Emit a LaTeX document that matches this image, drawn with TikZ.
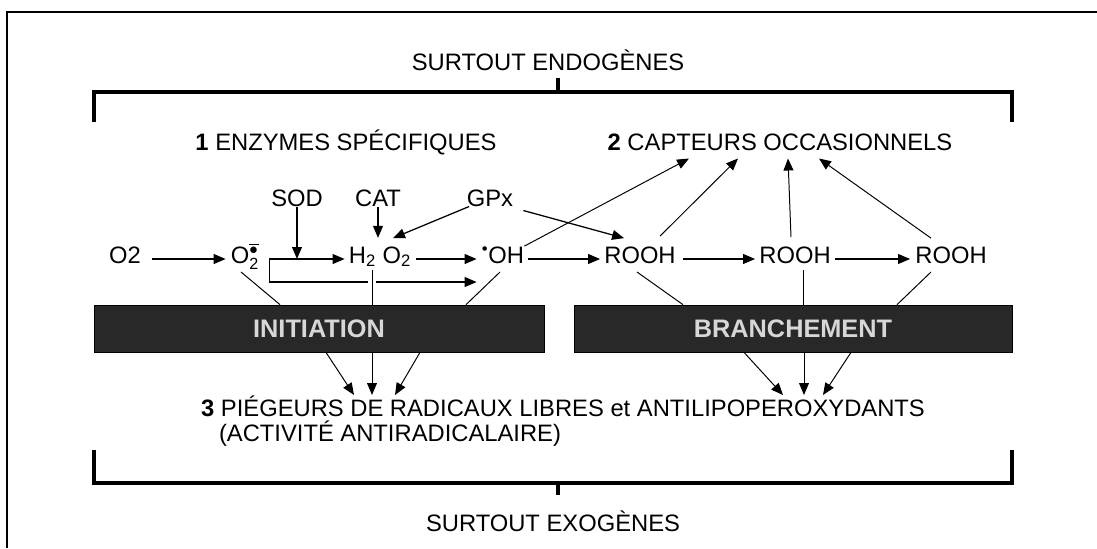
\documentclass[tikz,border=0pt]{standalone}
\usepackage{fontspec}
\setmainfont{Liberation Sans}
\usepackage{tikz}
\usetikzlibrary{arrows.meta,positioning,calc}
\definecolor{barfill}{RGB}{40,40,40}
\definecolor{barlight}{RGB}{215,215,215}
\newcommand{\superox}{O$_{\mbox{\fontsize{11.5}{12}\selectfont 2}}^{\overline{\scriptstyle\bullet}}$}

\begin{document}
\begin{tikzpicture}[x=0.025cm,y=-0.025cm,
    txt/.style={inner sep=0pt,anchor=base,font=\fontsize{16.9}{19}\selectfont},
    bar/.style={draw=black,fill=barfill,line width=0.5pt,inner sep=0pt,
                minimum height=1.175cm,text=barlight,
                font=\fontsize{18}{20}\selectfont\bfseries},
    arr/.style={-{Triangle[length=8.5pt,width=7pt]},line width=0.9pt},
    lnk/.style={line width=0.7pt},
    brk/.style={line width=2.2pt}
  ]
  \useasboundingbox (0,0) rectangle (1097,548);

  % cadre et accolades
  \draw[line width=1.4pt] (7,548) -- (7,12) -- (1097,12);
  \draw[brk] (94,122) -- (94,92) -- (1012,92) -- (1012,122) (558,92) -- (558,78);
  \draw[brk] (94,450) -- (94,483) -- (1012,483) -- (1012,450) (558,483) -- (558,495);

  \node[txt] (endo) at (548,70) {SURTOUT ENDOGÈNES};
  \node[txt] (exo) at (553,531) {SURTOUT EXOGÈNES};
  \node[txt] (enz) at (346,150) {\textbf{1} ENZYMES SPÉCIFIQUES};
  \node[txt] (capt) at (780,150) {\textbf{2} CAPTEURS OCCASIONNELS};

  \node[txt] (sod) at (297,206) {SOD};
  \node[txt] (cat) at (378,206) {CAT};
  \node[txt] (gpx) at (490,206) {GPx};

  \node[txt] (o2) at (125,263) {O2};
  \node[txt] (sup) at (245,263) {\superox};
  \node[txt] (hp) at (380,263) {H\textsubscript{2} O\textsubscript{2}};
  \node[txt] (oh) at (503,263) {\textsuperscript{\textbullet}OH};
  \node[txt] (r1) at (640,263) {ROOH};
  \node[txt] (r2) at (795,263) {ROOH};
  \node[txt] (r3) at (951,263) {ROOH};

  \node[bar,minimum width=11.25cm] (ini) at (319,328.5) {INITIATION};
  \node[bar,minimum width=10.95cm] (bra) at (793,328.5) {BRANCHEMENT};

  \node[txt] (pieg) at (563,416) {\textbf{3} PIÉGEURS DE RADICAUX LIBRES et ANTILIPOPEROXYDANTS};
  \node[txt] (activ) at (390,441) {(ACTIVITÉ ANTIRADICALAIRE)};

  % chaine
  \draw[arr] ([shift={(11,-4)}]o2.base east) -- ([shift={(-5,-4)}]sup.base west);
  \draw[arr] ([shift={(10,-4)}]sup.base east) coordinate (fork) -- ([shift={(-4,-4)}]hp.base west);
  \draw[arr] (fork) |- ([shift={(-5,19)}]oh.base west);
  \draw[arr] ([shift={(5,-4)}]hp.base east) -- ([shift={(-5,-4)}]oh.base west);
  \draw[arr] ([shift={(4,-4)}]oh.base east) -- ([shift={(-4,-4)}]r1.base west);
  \draw[arr] ([shift={(7,-4)}]r1.base east) -- ([shift={(-4,-4)}]r2.base west);
  \draw[arr] ([shift={(4,-4)}]r2.base east) -- ([shift={(-5,-4)}]r3.base west);

  \draw[arr] (sod) -- (sod |- fork);
  \draw[arr] (cat) -- ++(0,40);
  \draw[arr] (gpx) -- ([shift={(13,-8)}]hp.north);
  \draw[arr] ([shift={(10,4)}]gpx.south east) -- ([shift={(20,-8)}]r1.north west);

  % vers les capteurs
  \draw[arr,lnk] (oh.north east) -- ([shift={(-91,8)}]capt.south);
  \draw[arr,lnk] ([shift={(20,-10)}]r1.north) -- ([shift={(-42,8)}]capt.south);
  \draw[arr,lnk] ([shift={(-4,-9)}]r2.north) -- ([shift={(8,8)}]capt.south);
  \draw[arr,lnk] ([shift={(-20,-8)}]r3.north) -- ([shift={(39,8)}]capt.south);

  % vers les bandeaux
  \draw[lnk] ([shift={(-4,9)}]sup.base) -- ([shift={(-39,0)}]ini.north);
  \draw[lnk,preaction={draw=white,line width=5pt}] ([shift={(-8,7)}]hp.base) -- ([shift={(53,0)}]ini.north);
  \draw[lnk] ([shift={(-3,9)}]oh.base) -- ([shift={(147,0)}]ini.north);
  \draw[lnk] ([shift={(-3,9)}]r1.base) -- ([shift={(-110,0)}]bra.north);
  \draw[lnk] ([shift={(8,7)}]r2.base) -- ([shift={(10,0)}]bra.north);
  \draw[lnk] ([shift={(-20,9)}]r3.base) -- ([shift={(104,0)}]bra.north);

  % vers les piegeurs
  \draw[arr,lnk] ([shift={(7,0)}]ini.south) -- ([shift={(-209,-21)}]pieg.base);
  \draw[arr,lnk] ([shift={(53,0)}]ini.south) -- ([shift={(-191,-21)}]pieg.base);
  \draw[arr,lnk] ([shift={(101,0)}]ini.south) -- ([shift={(-168,-21)}]pieg.base);
  \draw[arr,lnk] ([shift={(-49,0)}]bra.south) -- ([shift={(220,-21)}]pieg.base);
  \draw[arr,lnk] ([shift={(11,0)}]bra.south) -- ([shift={(241,-21)}]pieg.base);
  \draw[arr,lnk] ([shift={(58,0)}]bra.south) -- ([shift={(260,-21)}]pieg.base);
\end{tikzpicture}
\end{document}
